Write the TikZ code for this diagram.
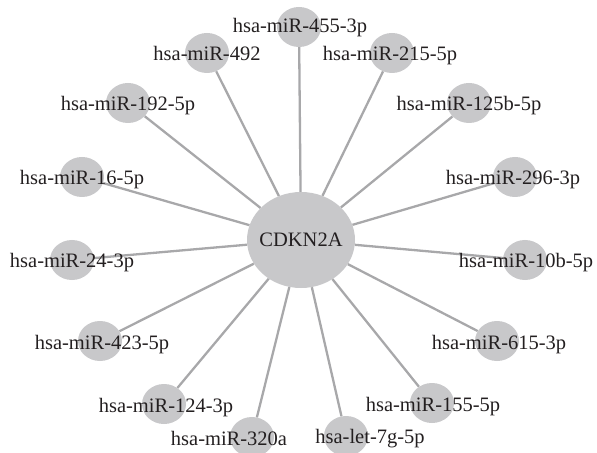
\documentclass[tikz,border=0pt]{standalone}
\usepackage{fontspec}
\setmainfont{Liberation Serif}
\usetikzlibrary{shapes.geometric}
\definecolor{nodefill}{RGB}{200,200,202}
\definecolor{edgegray}{RGB}{168,168,170}
\definecolor{txt}{RGB}{35,31,32}
\tikzset{
  hub/.style={ellipse, fill=nodefill, minimum width=108bp, minimum height=96bp, inner sep=0pt, text=txt, font=\fontsize{20.5bp}{22bp}\selectfont},
  mirna/.style={ellipse, fill=nodefill, minimum width=44bp, minimum height=40bp, inner sep=0pt},
  lbl/.style={anchor=base, inner sep=0pt, text=txt, font=\fontsize{20.5bp}{22bp}\selectfont},
  link/.style={draw=edgegray, line width=2.3bp}
}
\begin{document}
\begin{tikzpicture}[x=1bp,y=-1bp]
\useasboundingbox (0,0) rectangle (597,453);
% central gene
\node[hub] (c) at (301,240) {};
% miRNA nodes
\node[mirna] (m455) at (299,27) {};
\node[mirna] (m492) at (207,53) {};
\node[mirna] (m215) at (392,53) {};
\node[mirna] (m192) at (128,103) {};
\node[mirna] (m125) at (469,103) {};
\node[mirna] (m16) at (82,177) {};
\node[mirna] (m296) at (515,177) {};
\node[mirna] (m24) at (72,260) {};
\node[mirna] (m10) at (525,260) {};
\node[mirna] (m423) at (100,341) {};
\node[mirna] (m615) at (497,341) {};
\node[mirna] (m124) at (164,404) {};
\node[mirna] (m155) at (432,403) {};
\node[mirna] (m320) at (252,437) {};
\node[mirna] (mlet) at (346,436) {};
% interactions
\foreach \m in {m455,m492,m215,m192,m125,m16,m296,m24,m10,m423,m615,m124,m155,m320,mlet}
  \draw[link] (c) -- (\m);
% labels
\node[font=\fontsize{20.5bp}{22bp}\selectfont, text=txt] (lc) at (c) {CDKN2A};
\node[lbl] (l455) at (300,33) {hsa-miR-455-3p};
\node[lbl] (l492) at (207,61) {hsa-miR-492};
\node[lbl] (l215) at (390,61) {hsa-miR-215-5p};
\node[lbl] (l192) at (128,111) {hsa-miR-192-5p};
\node[lbl] (l125) at (469,111) {hsa-miR-125b-5p};
\node[lbl] (l16) at (82,185) {hsa-miR-16-5p};
\node[lbl] (l296) at (513,185) {hsa-miR-296-3p};
\node[lbl] (l24) at (72,268) {hsa-miR-24-3p};
\node[lbl] (l10) at (526,268) {hsa-miR-10b-5p};
\node[lbl] (l423) at (102,349) {hsa-miR-423-5p};
\node[lbl] (l615) at (499,349) {hsa-miR-615-3p};
\node[lbl] (l124) at (166,412) {hsa-miR-124-3p};
\node[lbl] (l155) at (433,411) {hsa-miR-155-5p};
\node[lbl] (l320) at (229,445) {hsa-miR-320a};
\node[lbl] (llet) at (370,443) {hsa-let-7g-5p};
\end{tikzpicture}
\end{document}
